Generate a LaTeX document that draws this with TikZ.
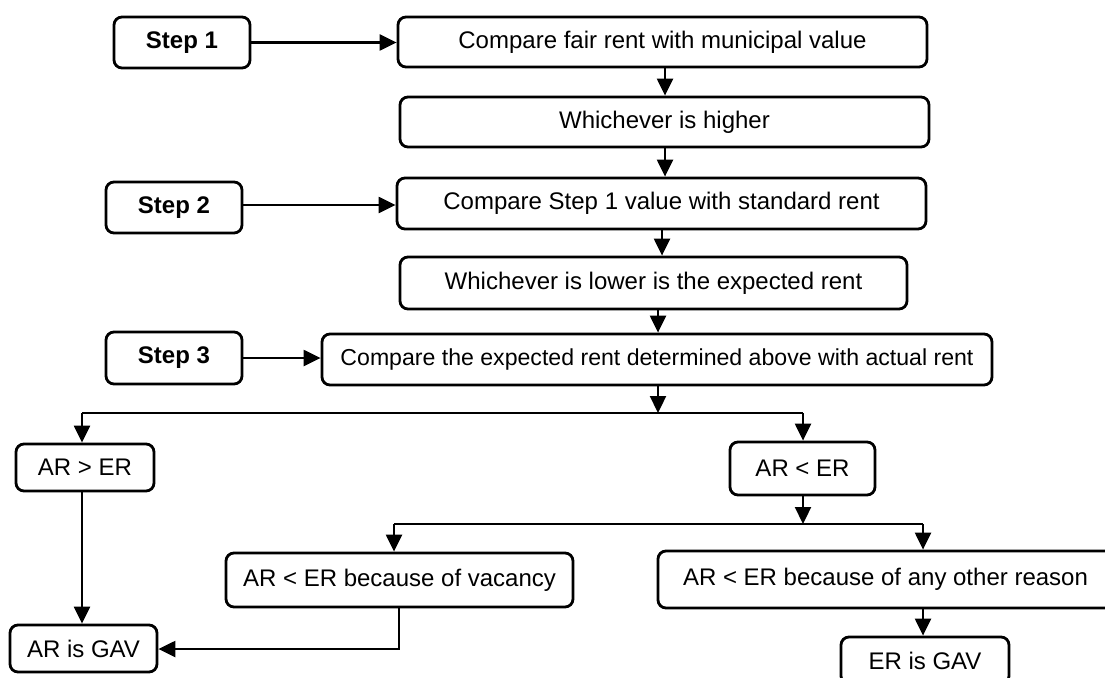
\documentclass[tikz,border=0pt]{standalone}
\usepackage{fontspec}
\setmainfont{Liberation Sans}
\usetikzlibrary{arrows.meta}
\begin{document}
\begin{tikzpicture}[x=1pt,y=-1pt,
  box/.style={draw, line width=2.8pt, rounded corners=8pt, inner sep=0pt,
    align=center, font=\fontsize{24}{28}\selectfont},
  stepbox/.style={box, font=\fontsize{24}{28}\selectfont\bfseries},
  arr/.style={line width=2.3pt, -{Triangle[length=17pt,width=16pt]}},
  ln/.style={line width=2.3pt}]
\useasboundingbox (0,0) rectangle (1105,677);
\clip (0,0) rectangle (1105,677);

% left-hand step labels
\node[stepbox, minimum width=136pt, minimum height=51pt] (s1) at (182,42.5) {Step 1};
\node[stepbox, minimum width=136pt, minimum height=51pt] (s2) at (174,207.5) {Step 2};
\node[stepbox, minimum width=136pt, minimum height=52pt] (s3) at (174,358) {Step 3};

% main chain
\node[box, minimum width=529pt, minimum height=50pt] (c1) at (662.5,42) {Compare fair rent with municipal value};
\node[box, minimum width=529pt, minimum height=50pt] (h1) at (664.5,122) {Whichever is higher};
\node[box, minimum width=529pt, minimum height=51pt] (c2) at (661.5,203.5) {Compare Step 1 value with standard rent};
\node[box, minimum width=507pt, minimum height=52pt] (l1) at (653.5,283) {Whichever is lower is the expected rent};
\node[box, minimum width=670pt, minimum height=51pt, font=\fontsize{23.1}{28}\selectfont] (c3) at (657,359.5) {Compare the expected rent determined above with actual rent};

% outcomes
\node[box, minimum width=138pt, minimum height=47pt] (gt) at (85,467.5) {AR > ER};
\node[box, minimum width=145pt, minimum height=53pt] (lt) at (802.5,468.5) {AR < ER};
\node[box, minimum width=347pt, minimum height=54pt] (vac) at (399.5,580) {AR < ER because of vacancy};
\node[box, minimum width=455pt, minimum height=57pt] (oth) at (885.5,579.5) {AR < ER because of any other reason};
\node[box, minimum width=168pt, minimum height=47pt] (ergav) at (925,660.5) {ER is GAV};
\node[box, minimum width=147pt, minimum height=47pt] (argav) at (83.5,648.5) {AR is GAV};

% junction points
\coordinate (j1) at (658,413);
\coordinate (j2) at (803,524);
\coordinate (v1) at (399,649);

% step arrows
\draw[arr] (s1.east) -- (s1.east -| c1.west);
\draw[arr] (s2.east |- 0,205) -- (c2.west |- 0,205);
\draw[arr] (s3.east) -- (s3.east -| c3.west);

% main chain arrows
\draw[arr] (c1.south -| 665,0) -- (h1.north -| 665,0);
\draw[arr] (h1.south -| 665,0) -- (c2.north -| 665,0);
\draw[arr] (c2.south -| 662,0) -- (l1.north -| 662,0);
\draw[arr] (l1.south -| 658,0) -- (c3.north -| 658,0);
\draw[arr] (c3.south -| j1) -- (j1);

% first split
\draw[ln] (82,413) -- (803,413);
\draw[arr] (82,413) -- (gt.north -| 82,0);
\draw[arr] (803,413) -- (lt.north -| 803,0);

% second split
\draw[arr] (lt.south -| j2) -- (j2);
\draw[ln] (394,524) -- (923,524);
\draw[arr] (394,524) -- (vac.north -| 394,0);
\draw[arr] (923,524) -- (oth.north -| 923,0);

% results
\draw[arr] (gt.south -| 82,0) -- (argav.north -| 82,0);
\draw[arr] (oth.south -| 923,0) -- (ergav.north -| 923,0);
\draw[arr] (vac.south -| v1) -- (v1) -- (argav.east |- v1);
\end{tikzpicture}
\end{document}
